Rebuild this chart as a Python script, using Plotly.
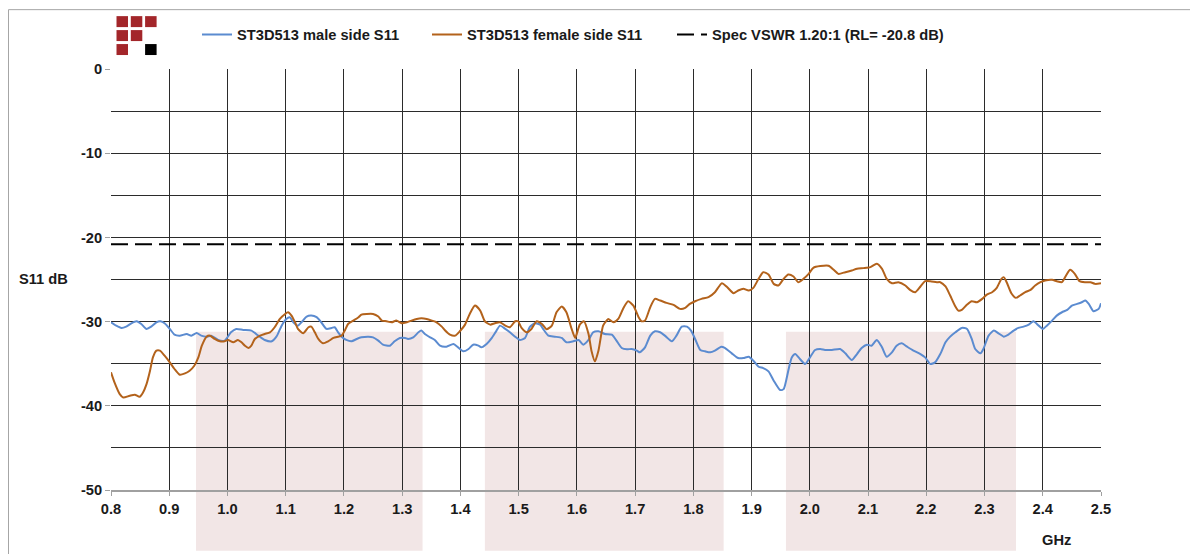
import plotly.graph_objects as go

# ---------------- data ----------------
freq_male = [0.800, 0.809, 0.818, 0.826, 0.835, 0.844, 0.852, 0.861, 0.869, 0.878, 0.885, 0.892,
             0.901, 0.909, 0.918, 0.930, 0.938, 0.947, 0.955, 0.964, 0.972, 0.984, 0.995, 1.006,
             1.015, 1.027, 1.041, 1.053, 1.064, 1.076, 1.084, 1.087, 1.093, 1.101, 1.107, 1.113,
             1.121, 1.127, 1.136, 1.144, 1.153, 1.161, 1.170, 1.179, 1.184, 1.190, 1.196, 1.204,
             1.213, 1.222, 1.230, 1.242, 1.250, 1.259, 1.267, 1.279, 1.287, 1.296, 1.305, 1.310,
             1.319, 1.328, 1.333, 1.339, 1.348, 1.356, 1.365, 1.376, 1.388, 1.396, 1.405, 1.414,
             1.422, 1.431, 1.436, 1.445, 1.454, 1.462, 1.468, 1.477, 1.485, 1.494, 1.502, 1.511,
             1.519, 1.528, 1.537, 1.542, 1.551, 1.562, 1.574, 1.582, 1.594, 1.603, 1.611, 1.620,
             1.628, 1.637, 1.648, 1.660, 1.668, 1.677, 1.686, 1.694, 1.703, 1.708, 1.717, 1.726,
             1.734, 1.743, 1.751, 1.763, 1.771, 1.780, 1.789, 1.796, 1.803, 1.812, 1.820, 1.829,
             1.837, 1.848, 1.854, 1.866, 1.877, 1.886, 1.895, 1.903, 1.912, 1.920, 1.929, 1.938,
             1.949, 1.955, 1.963, 1.969, 1.975, 1.983, 1.992, 2.001, 2.009, 2.018, 2.026, 2.038,
             2.052, 2.061, 2.072, 2.081, 2.089, 2.098, 2.106, 2.115, 2.124, 2.132, 2.141, 2.149,
             2.158, 2.167, 2.178, 2.190, 2.198, 2.207, 2.215, 2.224, 2.233, 2.241, 2.250, 2.261,
             2.270, 2.278, 2.284, 2.293, 2.298, 2.307, 2.316, 2.324, 2.333, 2.341, 2.350, 2.358,
             2.367, 2.376, 2.384, 2.393, 2.400, 2.407, 2.416, 2.424, 2.433, 2.442, 2.450, 2.459,
             2.467, 2.473, 2.479, 2.487, 2.496, 2.500]
s11_male = [-30.08, -30.48, -30.75, -30.60, -30.20, -29.96, -30.28, -30.87, -30.60, -30.08, -29.96, -30.20,
            -30.87, -31.55, -31.67, -31.47, -31.67, -31.35, -31.67, -31.79, -31.67, -32.18, -32.26, -31.27,
            -30.87, -30.99, -31.07, -31.67, -32.18, -32.34, -31.79, -31.40, -30.48, -29.68, -29.48, -30.08,
            -30.48, -30.08, -29.40, -29.29, -29.48, -30.08, -30.87, -30.75, -30.67, -31.27, -31.79, -32.18,
            -32.34, -32.06, -31.87, -31.79, -31.87, -32.26, -32.74, -32.86, -32.34, -31.94, -31.94, -32.06,
            -31.87, -31.27, -31.07, -31.47, -31.87, -32.18, -32.86, -32.98, -32.66, -33.06, -33.53, -33.25,
            -32.74, -32.86, -33.06, -32.66, -31.94, -31.07, -30.48, -30.87, -31.27, -31.79, -32.18, -31.94,
            -30.67, -30.20, -30.36, -30.87, -31.67, -31.79, -31.94, -32.46, -32.34, -32.18, -32.74, -32.18,
            -31.27, -31.15, -31.47, -31.55, -32.26, -33.13, -33.29, -33.25, -33.45, -33.65, -33.06, -31.67,
            -31.15, -31.27, -31.67, -32.34, -31.67, -30.60, -30.60, -31.07, -32.06, -33.37, -33.53, -33.65,
            -33.45, -32.98, -33.13, -33.77, -34.33, -34.33, -34.17, -34.64, -35.36, -35.52, -35.91, -37.02,
            -38.13, -38.02, -35.83, -34.25, -33.85, -34.44, -35.04, -34.17, -33.37, -33.25, -33.37, -33.37,
            -33.25, -33.77, -34.56, -33.85, -33.13, -32.74, -32.86, -32.18, -33.06, -34.17, -33.65, -32.86,
            -32.58, -32.98, -33.45, -33.85, -34.25, -35.04, -34.84, -33.85, -32.46, -31.79, -31.27, -30.75,
            -30.87, -32.06, -33.25, -33.77, -33.25, -31.67, -31.07, -31.39, -31.79, -31.55, -31.07, -30.75,
            -30.60, -30.36, -29.96, -30.48, -30.87, -30.48, -29.88, -29.29, -28.89, -28.61, -28.10, -27.90,
            -27.70, -27.50, -27.90, -28.77, -28.49, -27.82]

freq_female = [0.800, 0.806, 0.815, 0.821, 0.832, 0.841, 0.849, 0.855, 0.861, 0.867, 0.872, 0.878,
               0.884, 0.892, 0.901, 0.909, 0.918, 0.927, 0.935, 0.943, 0.950, 0.956, 0.964, 0.970,
               0.978, 0.987, 0.995, 1.001, 1.010, 1.018, 1.024, 1.030, 1.036, 1.041, 1.047, 1.056,
               1.064, 1.073, 1.081, 1.090, 1.099, 1.104, 1.110, 1.116, 1.121, 1.130, 1.139, 1.144,
               1.150, 1.156, 1.164, 1.173, 1.182, 1.190, 1.196, 1.202, 1.207, 1.216, 1.225, 1.230,
               1.239, 1.250, 1.259, 1.265, 1.273, 1.282, 1.290, 1.299, 1.308, 1.316, 1.325, 1.333,
               1.342, 1.351, 1.359, 1.368, 1.373, 1.382, 1.391, 1.399, 1.408, 1.416, 1.425, 1.434,
               1.442, 1.451, 1.459, 1.468, 1.477, 1.485, 1.494, 1.499, 1.505, 1.514, 1.522, 1.531,
               1.540, 1.548, 1.557, 1.565, 1.574, 1.582, 1.591, 1.597, 1.605, 1.612, 1.620, 1.625,
               1.631, 1.637, 1.645, 1.651, 1.654, 1.663, 1.671, 1.680, 1.688, 1.697, 1.706, 1.711,
               1.717, 1.726, 1.734, 1.743, 1.754, 1.766, 1.777, 1.786, 1.794, 1.803, 1.814, 1.826,
               1.837, 1.849, 1.857, 1.869, 1.877, 1.886, 1.895, 1.903, 1.912, 1.920, 1.929, 1.938,
               1.946, 1.955, 1.963, 1.972, 1.980, 1.989, 1.998, 2.006, 2.018, 2.032, 2.041, 2.049,
               2.061, 2.072, 2.081, 2.092, 2.104, 2.115, 2.124, 2.132, 2.141, 2.152, 2.164, 2.172,
               2.181, 2.190, 2.198, 2.207, 2.218, 2.224, 2.233, 2.241, 2.250, 2.255, 2.261, 2.270,
               2.278, 2.287, 2.296, 2.304, 2.313, 2.321, 2.329, 2.333, 2.338, 2.346, 2.354, 2.361,
               2.370, 2.379, 2.387, 2.396, 2.404, 2.416, 2.424, 2.433, 2.440, 2.447, 2.455, 2.463,
               2.473, 2.482, 2.490, 2.500]
s11_female = [-36.03, -37.22, -38.61, -39.01, -38.81, -38.69, -38.93, -38.41, -37.42, -35.83, -34.25, -33.45,
              -33.45, -34.05, -34.84, -35.63, -36.31, -36.15, -35.83, -35.24, -34.25, -32.86, -31.79, -31.67,
              -32.06, -32.34, -32.34, -32.18, -32.46, -32.18, -32.46, -32.86, -33.13, -32.86, -32.06, -31.67,
              -31.47, -31.27, -30.67, -29.68, -29.09, -28.89, -29.29, -30.08, -30.87, -31.39, -30.67, -30.60,
              -31.27, -32.06, -32.58, -32.34, -31.94, -31.79, -31.67, -30.99, -30.28, -29.88, -29.48, -29.17,
              -29.09, -29.09, -29.40, -29.88, -29.96, -30.08, -29.88, -30.20, -30.08, -29.88, -29.68, -29.60,
              -29.68, -29.88, -30.08, -30.60, -30.99, -31.55, -31.67, -31.15, -30.36, -29.09, -28.10, -28.69,
              -29.96, -30.36, -30.20, -30.08, -30.48, -30.67, -29.96, -29.96, -30.75, -31.27, -30.87, -29.96,
              -30.28, -30.91, -30.48, -28.89, -28.21, -28.89, -30.87, -31.94, -30.36, -29.96, -31.47, -33.45,
              -34.72, -33.45, -30.48, -29.88, -29.68, -30.08, -29.68, -28.37, -27.58, -28.10, -29.48, -29.96,
              -29.88, -28.29, -27.30, -27.50, -27.78, -28.02, -28.49, -28.37, -27.90, -27.58, -27.30, -27.10,
              -26.51, -25.44, -25.83, -26.63, -26.31, -26.11, -26.31, -25.99, -24.92, -24.13, -24.40, -25.52,
              -25.71, -24.92, -24.40, -24.64, -25.32, -24.92, -24.33, -23.61, -23.41, -23.37, -23.85, -24.33,
              -24.13, -23.93, -23.73, -23.65, -23.53, -23.13, -23.73, -24.92, -25.44, -25.32, -25.71, -26.23,
              -26.51, -25.83, -25.20, -25.20, -25.32, -25.32, -25.83, -26.90, -28.21, -28.69, -28.61, -27.98,
              -27.58, -27.70, -27.30, -26.79, -26.51, -25.99, -24.92, -24.72, -25.32, -26.63, -27.18, -26.90,
              -26.51, -26.23, -25.71, -25.32, -25.12, -25.04, -25.20, -25.32, -24.52, -23.85, -24.33, -25.20,
              -25.32, -25.32, -25.52, -25.44]

spec_freq = [0.8, 2.5]
spec_rl = -20.8

band_start = [0.946, 1.442, 1.959]
band_end = [1.335, 1.852, 2.354]
band_top = -31.2

x_ticks = [0.8, 0.9, 1.0, 1.1, 1.2, 1.3, 1.4, 1.5, 1.6, 1.7, 1.8, 1.9, 2.0, 2.1, 2.2, 2.3, 2.4, 2.5]
y_ticks = [0, -10, -20, -30, -40, -50]
y_tick_labels = ["0", "-10", "-20", "-30", "-40", "-50"]

name_male = "ST3D513 male side S11"
name_female = "ST3D513 female side S11"
name_spec = "Spec VSWR 1.20:1 (RL= -20.8 dB)"

# ---------------- layout helpers ----------------
# the page body has an 8px default margin, so the figure starts at (8, 8)
OFF = 8
W, H = 1190, 546
PLOT_X0, PLOT_X1, PLOT_Y0, PLOT_Y1 = 111, 1101, 68, 490   # target page pixels
L = PLOT_X0 - OFF
R = W - (PLOT_X1 - OFF)
T = PLOT_Y0 - OFF
B = H - (PLOT_Y1 - OFF)
PW, PH = W - L - R, H - T - B


def px(x):
    return (x - OFF - L) / PW


def py(y):
    return (H - B - (y - OFF)) / PH


FONT = "Liberation Sans, Arial, sans-serif"
FS = 14.67
BLUE = "#5b8bd0"
ORANGE = "#b3621b"
GRID = "#2b2b2b"
SHADE = "#f2e6e6"
RED = "#a3262a"
TXT = "#1a1a1a"

fig = go.Figure()

fig.add_trace(go.Scatter(x=freq_male, y=s11_male, mode="lines", name=name_male,
                         line=dict(color=BLUE, width=2, shape="spline", smoothing=0.6),
                         legend="legend"))
fig.add_trace(go.Scatter(x=freq_female, y=s11_female, mode="lines", name=name_female,
                         line=dict(color=ORANGE, width=2, shape="spline", smoothing=0.6),
                         legend="legend2"))
fig.add_trace(go.Scatter(x=spec_freq, y=[spec_rl] * len(spec_freq), mode="lines", name=name_spec,
                         line=dict(color="#000000", width=2, dash="17px,7px"),
                         legend="legend3"))

shapes = []
for x0, x1 in zip(band_start, band_end):
    shapes.append(dict(type="rect", xref="x", yref="y", x0=x0, x1=x1, y0=-50, y1=band_top,
                       fillcolor=SHADE, line=dict(width=0), layer="below"))
    shapes.append(dict(type="rect", xref="x", yref="paper", x0=x0, x1=x1, y0=py(551), y1=0,
                       fillcolor=SHADE, line=dict(width=0), layer="below"))

# outer chart border
shapes.append(dict(type="rect", xref="paper", yref="paper", x0=px(8.5), x1=px(1191),
                   y0=py(620), y1=py(8.5), line=dict(color="#a6a6a6", width=1),
                   fillcolor="rgba(0,0,0,0)", layer="below"))

# logo (3x3 grid of squares)
logo_cells = [(0, 0, RED), (1, 0, RED), (2, 0, RED), (0, 1, RED), (1, 1, RED), (0, 2, RED), (2, 2, "#000000")]
for c, r, col in logo_cells:
    x0 = 116.5 + c * 14.3
    y0 = 15 + r * 14
    shapes.append(dict(type="rect", xref="paper", yref="paper", x0=px(x0), x1=px(x0 + 11.5),
                       y0=py(y0 + 11), y1=py(y0), fillcolor=col, line=dict(width=0)))

legend_common = dict(orientation="h", xanchor="left", yanchor="middle",
                     bgcolor="rgba(0,0,0,0)", borderwidth=0,
                     font=dict(family=FONT, size=FS, color=TXT, weight="bold"))

fig.update_layout(
    width=W, height=H,
    margin=dict(l=L, r=R, t=T, b=B, pad=0),
    paper_bgcolor="white", plot_bgcolor="rgba(0,0,0,0)",
    font=dict(family=FONT, size=FS, color=TXT),
    showlegend=True,
    shapes=shapes,
    legend=dict(x=px(197), y=py(35), **legend_common),
    legend2=dict(x=px(427), y=py(35), **legend_common),
    legend3=dict(x=px(672), y=py(35), **legend_common),
    annotations=[
        dict(text="S11 dB", xref="paper", yref="paper", x=px(17), y=py(278),
             xanchor="left", yanchor="middle", showarrow=False,
             font=dict(family=FONT, size=FS, color=TXT, weight="bold")),
        dict(text="GHz", xref="paper", yref="paper", x=px(1056), y=py(540),
             xanchor="center", yanchor="middle", showarrow=False,
             font=dict(family=FONT, size=FS, color=TXT, weight="bold")),
    ],
    xaxis=dict(range=[0.8, 2.5], tickvals=x_ticks, tickformat=".1f",
               showgrid=True, gridcolor=GRID, gridwidth=1,
               showline=True, linecolor="#a0a0a0", linewidth=2,
               ticks="outside", ticklen=4, tickcolor="#a0a0a0",
               zeroline=False,
               tickfont=dict(family=FONT, size=FS, color=TXT, weight="bold")),
    yaxis=dict(range=[-50, 0], tickvals=y_ticks, ticktext=y_tick_labels,
               showgrid=True, gridcolor=GRID, gridwidth=1,
               minor=dict(dtick=5, showgrid=True, gridcolor=GRID, gridwidth=1),
               showline=False, zeroline=False,
               ticks="outside", ticklen=5, tickcolor="#a0a0a0",
               tickfont=dict(family=FONT, size=FS, color=TXT, weight="bold")),
)

fig.write_html("out.html")
